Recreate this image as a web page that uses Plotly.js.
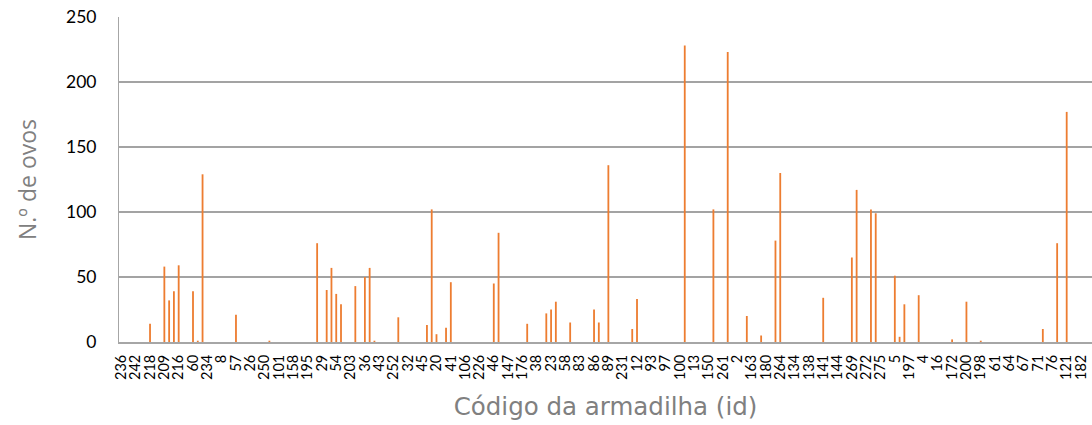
<!DOCTYPE html>
<html>
<head>
<meta charset="utf-8">
<script src="https://cdn.plot.ly/plotly-3.0.1.min.js"></script>
<style>html,body{margin:0;padding:0;background:#fff;}#chart{width:1092px;height:425px;}</style>
</head>
<body>
<div id="chart"></div>
<script>
// Trap ids in plotted order (only every third one is labelled on the axis)
const categories = [
  "236","237","238","242","243","244","218","219","220","209","210","211",
  "216","217","59","60","232","233","234","6","7","8","55","56",
  "57","24","25","26","248","249","250","251","254","101","102","103",
  "158","159","160","195","27","28","29","52","53","54","201","202",
  "203","34","35","36","39","40","43","44","253","252","30","31",
  "32","33","48","45","18","19","20","21","22","41","104","105",
  "106","224","225","226","227","47","46","145","146","147","174","175",
  "176","177","37","38","42","49","23","50","51","58","81","82",
  "83","84","85","86","87","88","89","229","230","231","10","11",
  "12","91","92","93","94","95","97","98","99","100","14","15",
  "13","148","149","150","151","152","261","262","263","2","3","162",
  "163","164","165","180","181","265","264","266","133","134","135","136",
  "138","139","140","141","142","143","144","267","268","269","270","271",
  "272","273","274","275","276","277","5","255","256","197","204","205",
  "4","206","207","16","170","171","172","173","212","200","213","214",
  "198","199","62","61","63","65","64","66","68","67","69","70",
  "71","72","73","76","77","78","121","122","123","182","183","184"
];

// Number of eggs per trap
const eggs = [
  0,0,0,0,0,0,14,0,0,58,32,39,
  59,0,0,39,1,129,0,0,0,0,0,0,
  21,0,0,0,0,0,0,1,0,0,0,0,
  0,0,0,0,0,76,0,40,57,37,29,0,
  0,43,0,50,57,1,0,0,0,0,19,0,
  0,0,0,0,13,102,6,0,11,46,0,0,
  0,0,0,0,0,0,45,84,0,0,0,0,
  0,14,0,0,0,22,25,31,0,0,15,0,
  0,0,0,25,15,0,136,0,0,0,0,10,
  33,0,0,0,0,0,0,0,0,0,228,0,
  0,0,0,0,102,0,0,223,0,0,0,20,
  0,0,5,0,0,78,130,0,0,0,0,0,
  0,0,0,34,0,0,0,0,0,65,117,0,
  0,102,99,0,0,0,51,4,29,0,0,36,
  0,0,0,0,0,0,2,0,0,31,0,0,
  1,0,0,0,0,0,0,0,0,0,0,0,
  0,10,0,0,76,0,177,0,0,0,0,0
];

// Tick labels shown on the category axis
const tickLabels = [
  "236","242","218","209","216","60","234","8","57","26","250","101",
  "158","195","29","54","203","36","43","252","32","45","20","41",
  "106","226","46","147","176","38","23","58","83","86","89","231",
  "12","93","97","100","13","150","261","2","163","180","264","134",
  "138","141","144","269","272","275","5","197","4","16","172","200",
  "198","61","64","67","71","76","121","182"
];

const yTicks = [0, 50, 100, 150, 200, 250];

const xTitleFont = {family: "'DejaVu Sans', 'Open Sans', sans-serif", size: 24.5, color: "#808080"};
const yTitleFont = {family: "'Open Sans', 'DejaVu Sans', sans-serif", size: 23, color: "#808080"};
const tickFont = {family: "Lato, 'Liberation Sans', sans-serif", color: "#000000"};

const trace = {
  type: "bar",
  x: categories,
  y: eggs,
  marker: {color: "#ED7D31", line: {width: 0}},
  hoverinfo: "x+y"
};

const layout = {
  width: 1092,
  height: 425,
  margin: {l: 119, r: 0, t: 17, b: 83, pad: 0},
  paper_bgcolor: "#ffffff",
  plot_bgcolor: "#ffffff",
  showlegend: false,
  bargap: 0.62,
  xaxis: {
    type: "category",
    categoryorder: "array",
    categoryarray: categories,
    range: [-0.5, 203.3],
    tickmode: "array",
    tickvals: tickLabels,
    ticktext: tickLabels,
    tickangle: -90,
    tickfont: Object.assign({size: 14.5}, tickFont),
    ticks: "",
    ticklabelstandoff: 5,
    showgrid: false,
    zeroline: false,
    showline: true,
    linecolor: "#A6A6A6",
    linewidth: 2,
    automargin: false,
    fixedrange: true,
    title: {text: "Código da armadilha (id)", font: xTitleFont, standoff: 19}
  },
  yaxis: {
    range: [0, 250],
    tickmode: "array",
    tickvals: yTicks,
    ticktext: yTicks.map(String),
    tickfont: Object.assign({size: 17.5}, tickFont),
    ticks: "",
    ticklabelstandoff: 18,
    showgrid: true,
    gridcolor: "#A3A3A3",
    gridwidth: 1.3,
    zeroline: false,
    showline: true,
    linecolor: "#A6A6A6",
    linewidth: 1,
    automargin: false,
    fixedrange: true,
    title: {text: "N.º de ovos", font: yTitleFont, standoff: 22}
  }
};

Plotly.newPlot("chart", [trace], layout, {displayModeBar: false, staticPlot: true});
</script>
</body>
</html>
